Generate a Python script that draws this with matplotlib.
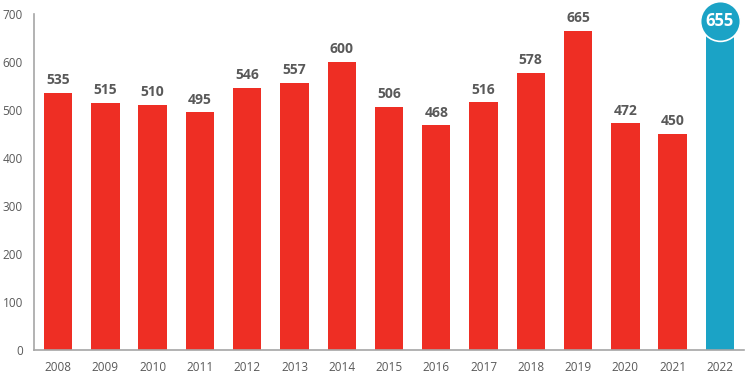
import matplotlib
matplotlib.use("Agg")
import matplotlib.pyplot as plt

years = ["2008", "2009", "2010", "2011", "2012", "2013", "2014", "2015",
         "2016", "2017", "2018", "2019", "2020", "2021", "2022"]
values = [535, 515, 510, 495, 546, 557, 600, 506, 468, 516, 578, 665, 472, 450, 655]
yticks = [0, 100, 200, 300, 400, 500, 600, 700]

red = "#EE2E24"
blue = "#1BA3C6"
gray = "#595959"

plt.rcParams['font.family'] = ['Open Sans', 'DejaVu Sans']

fig = plt.figure(figsize=(7.46, 3.84), dpi=100)
ax = fig.add_axes([34 / 746, 34 / 384, (744 - 34) / 746, (350 - 14) / 384])

x = list(range(len(years)))
colors = [red] * (len(years) - 1) + [blue]
ax.bar(x, values, width=0.6, color=colors, zorder=2)

for i, v in enumerate(values[:-1]):
    ax.text(i, v + 12, str(v), ha="center", va="bottom", fontsize=10,
            fontweight="bold", color=gray)

# highlighted last value in a circle
last = len(values) - 1
ax.scatter([last], [685], s=820, color=blue, edgecolors="white",
           linewidths=1.2, zorder=4, clip_on=False)
ax.text(last, 685, str(values[-1]), ha="center", va="center", fontsize=12,
        fontweight="bold", color="white", zorder=5)

ax.set_xlim(-0.51, len(years) - 0.49)
ax.set_ylim(0, 700)
ax.set_xticks(x)
ax.set_xticklabels(years)
ax.set_yticks(yticks)
ax.tick_params(axis="both", length=0, labelsize=8.5, labelcolor=gray)
ax.tick_params(axis="x", pad=8)
ax.tick_params(axis="y", pad=8)

for s in ["top", "right"]:
    ax.spines[s].set_visible(False)
ax.spines["left"].set_color("#A6A6A6")
ax.spines["bottom"].set_color("#A6A6A6")
ax.spines["left"].set_linewidth(1.2)
ax.spines["bottom"].set_linewidth(1.2)

fig.savefig("out.png", dpi=100)
